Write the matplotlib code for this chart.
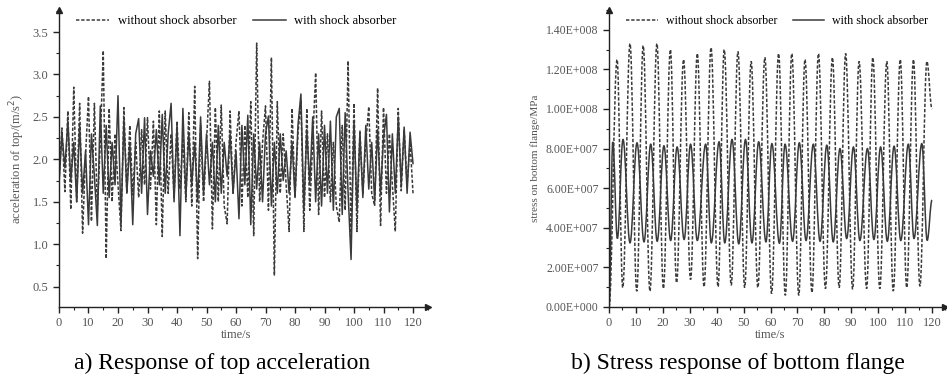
from matplotlib import pyplot as plt
from matplotlib.ticker import MultipleLocator, FuncFormatter
from matplotlib.path import Path
from matplotlib.patches import PathPatch
import numpy as np

plt.rcParams['font.family'] = ['Liberation Serif', 'DejaVu Serif']

# a) top acceleration, sampled each second 0..120 s
acc_time = np.arange(0, 121, 1)
acc_without = [1.75, 2.37, 1.62, 2.57, 1.41, 2.85, 1.50, 2.66, 1.13, 2.05,
               2.74, 1.27, 2.66, 1.40, 2.20, 3.28, 0.83, 2.60, 1.50, 2.30,
               1.70, 1.16, 2.61, 1.60, 2.40, 1.58, 2.20, 1.55, 2.35, 1.70,
               2.49, 1.65, 2.45, 1.23, 2.57, 1.09, 2.57, 1.60, 2.30, 1.55,
               2.45, 1.65, 2.25, 1.50, 2.55, 1.45, 2.86, 0.83, 2.40, 1.50,
               2.20, 2.92, 1.18, 2.61, 1.50, 2.64, 1.45, 1.24, 2.57, 1.60,
               2.20, 2.57, 1.45, 2.40, 1.55, 2.68, 1.10, 3.37, 1.50, 2.20,
               2.63, 1.40, 3.20, 0.63, 2.68, 1.60, 2.30, 1.70, 1.15, 2.60,
               1.55, 2.30, 2.70, 1.15, 2.60, 1.40, 2.20, 3.02, 1.35, 2.57,
               1.55, 2.30, 1.50, 2.20, 1.45, 1.26, 2.40, 1.40, 3.16, 1.10,
               2.66, 1.15, 2.34, 1.60, 2.20, 2.62, 1.60, 1.45, 2.84, 1.22,
               2.61, 1.60, 2.30, 1.70, 1.15, 2.60, 1.63, 2.35, 1.70, 2.20,
               1.60]
acc_with = [1.70, 2.30, 1.90, 2.45, 1.75, 2.20, 1.50, 2.40, 1.60, 2.10,
            1.23, 2.30, 1.80, 1.22, 2.63, 1.60, 2.40, 1.55, 2.20, 1.70,
            2.75, 1.24, 2.47, 1.60, 2.20, 1.23, 2.30, 2.48, 1.60, 2.49,
            1.35, 2.10, 1.80, 2.35, 1.70, 2.53, 1.60, 2.30, 2.66, 1.50,
            2.40, 1.10, 2.60, 1.55, 2.30, 1.70, 2.20, 1.50, 2.50, 1.60,
            2.30, 1.70, 2.20, 1.50, 2.40, 1.60, 2.20, 1.80, 2.30, 1.60,
            2.10, 1.30, 2.40, 1.70, 2.52, 1.23, 2.30, 1.65, 2.20, 1.50,
            2.30, 2.51, 1.45, 2.20, 1.60, 2.30, 1.75, 2.10, 1.60, 2.20,
            1.55, 2.40, 2.77, 1.40, 2.35, 1.70, 2.50, 1.50, 2.30, 1.45,
            2.40, 1.60, 2.45, 1.40, 2.50, 2.60, 1.35, 2.55, 1.60, 0.82,
            2.45, 1.40, 2.30, 1.55, 2.40, 1.65, 2.20, 1.50, 2.35, 1.60,
            2.25, 2.53, 1.38, 2.30, 1.60, 2.50, 1.70, 2.38, 1.60, 2.32,
            1.95]

# b) bottom flange stress: peaks and troughs of each cycle
dash_peak_t = [3.0, 7.8, 12.7, 17.8, 22.8, 27.7, 32.8, 37.9, 42.8, 47.9, 52.8, 57.9,
               63.0, 67.9, 72.8, 77.8, 83.0, 87.9, 92.9, 98.0, 103.2, 108.2, 113.1, 118.1]
dash_peak = [1.25e8, 1.33e8, 1.32e8, 1.33e8, 1.30e8, 1.25e8, 1.28e8, 1.31e8, 1.30e8,
             1.29e8, 1.24e8, 1.26e8, 1.28e8, 1.28e8, 1.25e8, 1.28e8, 1.26e8, 1.28e8,
             1.24e8, 1.26e8, 1.24e8, 1.25e8, 1.25e8, 1.24e8]
dash_trough_t = [5.1, 10.3, 15.2, 20.2, 25.1, 30.3, 35.3, 40.5, 45.4, 50.4, 55.3, 60.4,
                 65.5, 70.5, 75.4, 80.4, 85.5, 90.5, 95.7, 100.6, 105.6, 110.6, 115.5]
dash_trough = [0.98e7, 0.80e7, 0.80e7, 0.93e7, 1.22e7, 1.39e7, 1.02e7, 1.02e7, 1.10e7,
               0.98e7, 0.98e7, 0.68e7, 0.59e7, 0.59e7, 0.73e7, 0.93e7, 0.98e7, 0.90e7,
               0.93e7, 0.93e7, 0.81e7, 0.98e7, 1.05e7]
dash_end = 1.0e8

solid_peak_t = [1.4, 5.2, 10.4, 15.5, 20.4, 25.3, 30.3, 35.9, 40.9, 45.7, 50.7, 55.6,
                60.5, 65.4, 70.7, 75.9, 80.9, 85.8, 90.8, 96.0, 100.9, 105.9, 111.2, 116.2]
solid_peak = [8.34e7, 8.46e7, 8.29e7, 8.22e7, 8.14e7, 8.08e7, 8.22e7, 8.22e7, 8.34e7,
              8.46e7, 8.46e7, 8.34e7, 8.25e7, 8.22e7, 8.29e7, 8.22e7, 8.17e7, 8.00e7,
              8.08e7, 8.00e7, 8.08e7, 8.12e7, 8.22e7, 8.25e7]
solid_trough_t = [3.1, 7.8, 13.0, 17.9, 22.9, 27.9, 32.8, 38.0, 43.0, 48.2, 53.1, 58.3,
                  63.3, 68.2, 73.2, 78.4, 83.3, 88.3, 93.2, 98.4, 103.4, 108.4, 113.3, 118.2]
solid_trough = [3.46e7, 3.24e7, 3.29e7, 3.32e7, 3.36e7, 3.41e7, 3.36e7, 3.24e7, 3.24e7,
                3.19e7, 3.24e7, 3.29e7, 3.22e7, 3.32e7, 3.36e7, 3.32e7, 3.29e7, 3.46e7,
                3.36e7, 3.41e7, 3.32e7, 3.36e7, 3.46e7, 3.36e7]
solid_end = 5.4e7


def join_extrema(t_a, v_a, t_b, v_b, end_v):
    t = [0.0] + list(t_a) + list(t_b) + [120.0]
    v = [0.0] + list(v_a) + list(v_b) + [end_v]
    order = np.argsort(t, kind='stable')
    return np.array(t)[order], np.array(v)[order]


def smooth_path(t, v, k=0.38):
    # bezier segments with flat tangents at every peak / trough
    verts = [(t[0], v[0])]
    codes = [Path.MOVETO]
    for i in range(len(t) - 1):
        dt = t[i + 1] - t[i]
        verts += [(t[i] + k * dt, v[i]), (t[i + 1] - k * dt, v[i + 1]), (t[i + 1], v[i + 1])]
        codes += [Path.CURVE4] * 3
    return Path(verts, codes)


dash_t, dash_v = join_extrema(dash_peak_t, dash_peak, dash_trough_t, dash_trough, dash_end)
sol_t, sol_v = join_extrema(solid_peak_t, solid_peak, solid_trough_t, solid_trough, solid_end)

line_col = '#3a3a3a'
tick_col = '#555555'
dash_style = (0, (2.2, 1.2))

fig = plt.figure(figsize=(9.47, 3.77), dpi=100)
ax1 = fig.add_axes([0.0623, 0.1857, 0.3894, 0.7878])
ax2 = fig.add_axes([0.6431, 0.1857, 0.3553, 0.7878])


def style_axes(ax):
    for s in ['top', 'right']:
        ax.spines[s].set_visible(False)
    for s in ['left', 'bottom']:
        ax.spines[s].set_linewidth(1.0)
        ax.spines[s].set_color('#222222')
    ax.plot(1, 0, '>', color='#222222', ms=5, transform=ax.transAxes, clip_on=False)
    ax.plot(0, 1, '^', color='#222222', ms=5, transform=ax.transAxes, clip_on=False)
    ax.set_xlim(0, 125)
    ax.xaxis.set_minor_locator(MultipleLocator(5))
    ax.set_xticks(np.arange(0, 121, 10))
    ax.tick_params(which='major', direction='out', length=4, width=1,
                   labelsize=9, labelcolor=tick_col, color='#222222')
    ax.tick_params(which='minor', direction='out', length=2.5, width=0.8, color='#222222')
    ax.set_xlabel('time/s', fontsize=9, color=tick_col, labelpad=2)
    ax.xaxis.set_label_coords(60 / 125, -0.075)


legend_kw = dict(loc='upper left', ncol=2, frameon=False, handlelength=2.6,
                 columnspacing=1.3, handletextpad=0.7)

# left panel
ax1.plot(acc_time, acc_without, color=line_col, lw=1.1, linestyle=dash_style,
         label='without shock absorber')
ax1.plot(acc_time, acc_with, color=line_col, lw=1.1, label='with shock absorber')
style_axes(ax1)
ax1.set_ylim(0.26, 3.76)
ax1.set_yticks([0.5, 1.0, 1.5, 2.0, 2.5, 3.0, 3.5])
ax1.yaxis.set_minor_locator(MultipleLocator(0.25))
ax1.yaxis.set_major_formatter(FuncFormatter(lambda v, p: f'{v:.1f}'))
ax1.set_ylabel('acceleration of top/(m/s$^2$)', fontsize=9, color=tick_col, labelpad=4)
ax1.legend(bbox_to_anchor=(0.015, 1.02), fontsize=9.1, **legend_kw)

# right panel
ax2.add_patch(PathPatch(smooth_path(dash_t, dash_v), fill=False, edgecolor=line_col,
                        lw=1.1, linestyle=dash_style))
ax2.add_patch(PathPatch(smooth_path(sol_t, sol_v), fill=False, edgecolor=line_col, lw=1.1))
ax2.plot([], [], color=line_col, lw=1.1, linestyle=dash_style, label='without shock absorber')
ax2.plot([], [], color=line_col, lw=1.1, label='with shock absorber')
style_axes(ax2)
ax2.set_ylim(0, 1.5e8)
ax2.set_yticks(np.arange(0, 1.41e8, 2e7))
ax2.yaxis.set_minor_locator(MultipleLocator(1e7))


def sci_label(v, p):
    if v == 0:
        return '0.00E+000'
    e = int(np.floor(np.log10(abs(v))))
    return f'{v / 10 ** e:.2f}E+{e:03d}'


ax2.yaxis.set_major_formatter(FuncFormatter(sci_label))
ax2.tick_params(axis='y', labelsize=8.5)
ax2.set_ylabel('stress on bottom flange/MPa', fontsize=8, color=tick_col, labelpad=4)
ax2.legend(bbox_to_anchor=(0.02, 1.02), fontsize=8.6, **legend_kw)

fig.text(222 / 947, 1 - 363 / 377, 'a) Response of top acceleration',
         ha='center', va='center', fontsize=17)
fig.text(738 / 947, 1 - 363 / 377, 'b) Stress response of bottom flange',
         ha='center', va='center', fontsize=17)

fig.savefig('out.png', dpi=100)
